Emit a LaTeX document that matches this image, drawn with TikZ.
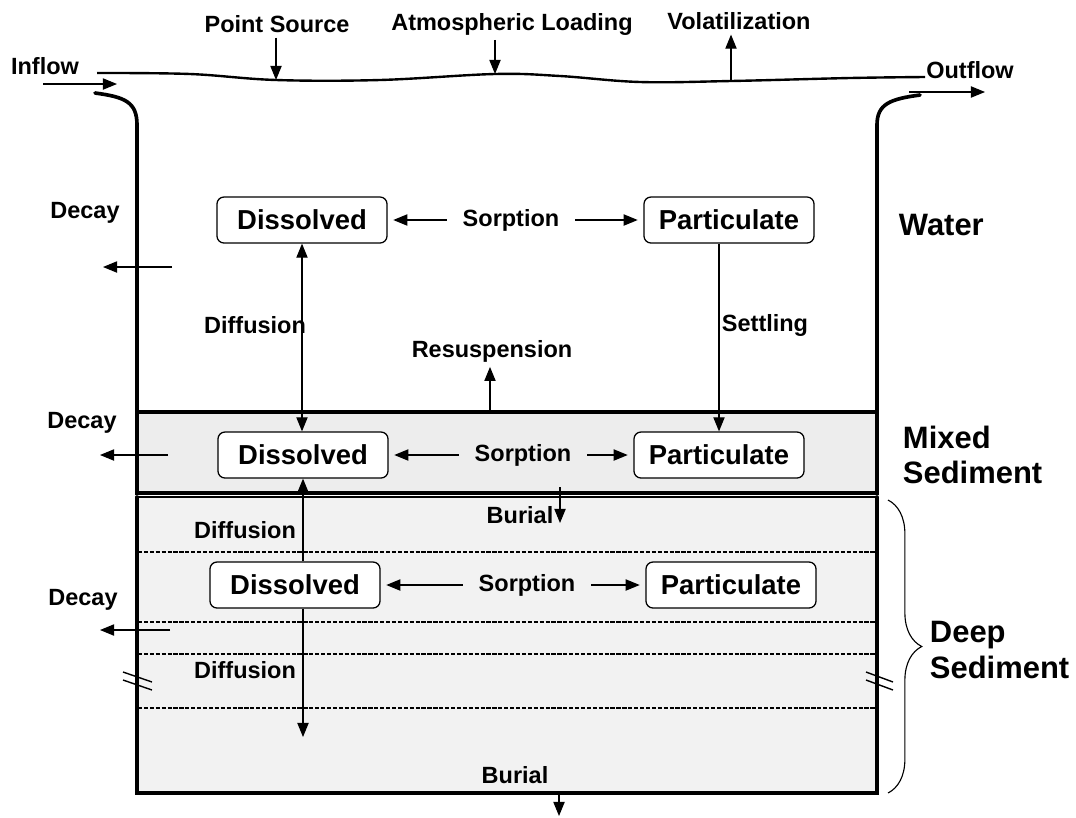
\documentclass[tikz,border=0pt]{standalone}
\usepackage{fontspec}
\setmainfont{Liberation Sans}
\usetikzlibrary{arrows.meta,decorations.pathreplacing}

\begin{document}
\begin{tikzpicture}[x=0.025cm,y=-0.025cm,
        lbl/.style={font=\fontsize{16.7}{18}\selectfont\bfseries},
        comp/.style={draw,line width=0.9pt,rounded corners=5pt,fill=white,minimum width=4.25cm,minimum height=1.15cm,font=\fontsize{19.5}{21}\selectfont\bfseries},
        layer/.style={font=\fontsize{22}{25}\selectfont\bfseries,align=left,anchor=west},
        flow/.style={-{Triangle[length=10pt,width=8pt]},line width=0.8pt},
        flowb/.style={{Triangle[length=10pt,width=8pt]}-{Triangle[length=10pt,width=8pt]},line width=0.8pt},
        wall/.style={line width=2.6pt,line cap=round},
        sep/.style={line width=1.1pt,dash pattern=on 3pt off 1.2pt},
        brk/.style={line width=1pt}]
        \useasboundingbox(0,0)rectangle(1076,817);

        \draw[line width=1.7pt]plot[smooth,tension=0.6]coordinates{(97,73)(190,74)(276,80)(380,80)(495,74)(560,76)(640,82)(731,81)(850,78)(925,77)};
        \coordinate(s1)at(276,80);
        \coordinate(s2)at(495,74);
        \coordinate(s3)at(731,81);

        \draw[wall](95,93)..controls(125,97)and(137,102)..(137,125)--(137,412);
        \draw[wall](920,95)..controls(890,99)and(877,104)..(877,125)--(877,412);
        \draw[wall,fill=black!7](137,412)rectangle(877,493);
        \draw[line width=1.6pt,fill=black!5](137,497)rectangle(877,793);
        \draw[wall](137,497)--(137,793)--(877,793)--(877,497);
        \foreach \y in {552,622,654,708}
            \draw[sep](138,\y)--(876,\y);

        \node[lbl](inf)at(45,66){Inflow};
        \node[lbl](pts)at(277,24){Point Source};
        \node[lbl](atm)at(512,24){Atmospheric Loading};
        \node[lbl](vol)at(739,21){Volatilization};
        \node[lbl](outf)at(970,70){Outflow};
        \coordinate(in1)at(43,84);
        \coordinate(in2)at(117,84);
        \coordinate(out1)at(909,92);
        \coordinate(out2)at(985,92);
        \draw[flow](in1)--(in2);
        \draw[flow](out1)--(out2);
        \draw[flow](s1|-pts.south)--(s1);
        \draw[flow](s2|-atm.south)--(s2);
        \draw[flow](s3)--(s3|-vol.south);

        \node[comp](dw)at(302,220){Dissolved};
        \node[comp](pw)at(729,220){Particulate};
        \node[comp](dm)at(303,455){Dissolved};
        \node[comp](pm)at(719,455){Particulate};
        \node[comp](dd)at(295,585){Dissolved};
        \node[comp](pd)at(731,585){Particulate};

        \node[lbl](sw)at(511,220){Sorption};
        \node[lbl](sm)at(523,455){Sorption};
        \node[lbl](sd)at(527,585){Sorption};
        \draw[flow,shorten <=8pt,shorten >=4pt](sw.west)--(dw.east);
        \draw[flow,shorten <=8pt,shorten >=4pt](sw.east)--(pw.west);
        \draw[flow,shorten <=8pt,shorten >=4pt](sm.west)--(dm.east);
        \draw[flow,shorten <=8pt,shorten >=4pt](sm.east)--(pm.west);
        \draw[flow,shorten <=8pt,shorten >=4pt](sd.west)--(dd.east);
        \draw[flow,shorten <=8pt,shorten >=4pt](sd.east)--(pd.west);

        \node[lbl](fw)at(255,325){Diffusion};
        \draw[flowb](dw.south)--(dw.south|-dm.north);
        \node[lbl](stl)at(765,325){Settling};
        \draw[flow](pm.north|-pw.south)--(pm.north);
        \node[lbl](rsp)at(492,351){Resuspension};
        \coordinate(rs)at(490,412);
        \draw[flow](rs)--(rs|-rsp.south);

        \node[lbl](fd1)at(245,530){Diffusion};
        \draw[flow](dm.south|-dd.north)--(dm.south);
        \node[lbl](fd2)at(245,670){Diffusion};
        \coordinate(fdx)at(303,737);
        \draw[flow](fdx|-dd.south)--(fdx);

        \node[lbl](bu1)at(520,515){Burial};
        \coordinate(bu1a)at(560,487);
        \coordinate(bu1b)at(560,523);
        \draw[flow](bu1a)--(bu1b);
        \node[lbl](bu2)at(515,775){Burial};
        \coordinate(bu2a)at(559,793);
        \coordinate(bu2b)at(559,816);
        \draw[flow](bu2a)--(bu2b);

        \node[lbl](kw)at(85,213){Decay};
        \coordinate(kw1)at(172,267);
        \coordinate(kw2)at(103,267);
        \draw[flow](kw1)--(kw2);
        \node[lbl](km)at(82,423){Decay};
        \coordinate(km1)at(168,455);
        \coordinate(km2)at(100,455);
        \draw[flow](km1)--(km2);
        \node[lbl](kd)at(83,600){Decay};
        \coordinate(kd1)at(170,630);
        \coordinate(kd2)at(100,630);
        \draw[flow](kd1)--(kd2);

        \draw[brk](123,672)--(152,682)(123,680)--(152,690);
        \draw[brk](866,672)--(893,682)(866,680)--(893,690);

        \draw[decorate,decoration={brace,amplitude=24pt},line width=0.8pt](888,500)--(888,793);
        \node[layer](lw)at(894,225){Water};
        \node[layer](lm)at(898,455){Mixed\\Sediment};
        \node[layer](ld)at(925,650){Deep\\Sediment};
    \end{tikzpicture}
\end{document}
